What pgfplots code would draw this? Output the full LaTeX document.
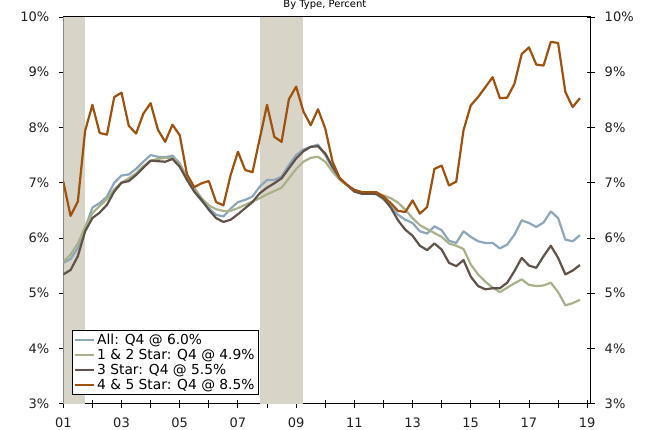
\documentclass[border=0pt]{standalone}
\usepackage{pgfplots}
\pgfplotsset{compat=1.18}
\usepackage{pgfplotstable}
\usepackage{fontspec}
\setmainfont{DejaVu Sans}
\definecolor{cAll}{RGB}{140,166,186}
\definecolor{cOne}{RGB}{168,178,138}
\definecolor{cThree}{RGB}{96,82,72}
\definecolor{cFour}{RGB}{158,82,14}
\definecolor{recess}{RGB}{216,212,200}
\pgfplotstableread{
x all one three four
2001.00 5.55 5.57 5.34 7.02
2001.25 5.62 5.70 5.42 6.40
2001.50 5.82 5.90 5.67 6.66
2001.75 6.18 6.20 6.12 7.94
2002.00 6.55 6.45 6.36 8.41
2002.25 6.63 6.58 6.46 7.90
2002.50 6.75 6.70 6.60 7.87
2002.75 7.00 6.88 6.84 8.55
2003.00 7.13 7.00 7.00 8.63
2003.25 7.15 7.08 7.03 8.03
2003.50 7.25 7.17 7.14 7.89
2003.75 7.38 7.30 7.27 8.25
2004.00 7.50 7.40 7.40 8.44
2004.25 7.47 7.43 7.39 7.96
2004.50 7.46 7.45 7.38 7.74
2004.75 7.49 7.45 7.43 8.05
2005.00 7.35 7.33 7.29 7.86
2005.25 7.08 7.11 7.05 7.15
2005.50 6.84 6.91 6.84 6.92
2005.75 6.67 6.72 6.69 6.99
2006.00 6.54 6.59 6.51 7.03
2006.25 6.42 6.52 6.36 6.65
2006.50 6.39 6.49 6.29 6.59
2006.75 6.53 6.49 6.33 7.14
2007.00 6.65 6.54 6.43 7.56
2007.25 6.69 6.60 6.54 7.23
2007.50 6.75 6.66 6.65 7.19
2007.75 6.93 6.72 6.81 7.80
2008.00 7.05 6.79 6.91 8.41
2008.25 7.05 6.85 6.99 7.83
2008.50 7.11 6.91 7.08 7.74
2008.75 7.32 7.08 7.26 8.51
2009.00 7.50 7.25 7.44 8.74
2009.25 7.60 7.38 7.57 8.29
2009.50 7.65 7.45 7.65 8.04
2009.75 7.69 7.47 7.66 8.33
2010.00 7.50 7.38 7.53 7.98
2010.25 7.26 7.20 7.29 7.38
2010.50 7.07 7.05 7.08 7.08
2010.75 6.96 6.95 6.96 6.96
2011.00 6.85 6.87 6.84 6.87
2011.25 6.82 6.83 6.80 6.83
2011.50 6.81 6.82 6.80 6.83
2011.75 6.79 6.82 6.80 6.83
2012.00 6.70 6.77 6.72 6.75
2012.25 6.57 6.72 6.55 6.63
2012.50 6.42 6.64 6.32 6.49
2012.75 6.33 6.51 6.15 6.47
2013.00 6.27 6.36 6.04 6.68
2013.25 6.12 6.23 5.86 6.44
2013.50 6.08 6.16 5.78 6.56
2013.75 6.21 6.09 5.90 7.25
2014.00 6.14 6.02 5.79 7.31
2014.25 5.95 5.90 5.55 6.95
2014.50 5.91 5.86 5.49 7.02
2014.75 6.12 5.80 5.60 7.95
2015.00 6.02 5.52 5.30 8.40
2015.25 5.94 5.34 5.13 8.55
2015.50 5.91 5.21 5.07 8.73
2015.75 5.91 5.10 5.09 8.91
2016.00 5.81 5.02 5.09 8.53
2016.25 5.88 5.10 5.19 8.54
2016.50 6.06 5.18 5.40 8.79
2016.75 6.32 5.25 5.64 9.33
2017.00 6.27 5.15 5.50 9.45
2017.25 6.20 5.13 5.46 9.14
2017.50 6.28 5.14 5.67 9.12
2017.75 6.48 5.19 5.86 9.55
2018.00 6.36 5.02 5.64 9.53
2018.25 5.97 4.78 5.34 8.64
2018.50 5.94 4.82 5.41 8.37
2018.75 6.05 4.88 5.51 8.53
}\datatable
\begin{document}
\begin{tikzpicture}
\begin{axis}[
  name=main,
  scale only axis,
  width=527.4pt, height=386.7pt,
  xmin=2001, xmax=2019.12,
  ymin=3, ymax=10,
  xtick={2001,...,2019},
  xticklabels={01,,03,,05,,07,,09,,11,,13,,15,,17,,19},
  ytick={3,...,10},
  yticklabels={3\%,4\%,5\%,6\%,7\%,8\%,9\%,10\%},
  xtick pos=bottom, ytick pos=left,
  tick align=center,
  major tick length=8pt,
  tick style={black, line width=0.9pt},
  axis line style={black, line width=1pt},
  tick label style={font=\fontsize{13}{15}\selectfont, text=black!88},
  yticklabel style={xshift=-6.5pt},
  xticklabel style={yshift=-7pt},
  title={By Type, Percent},
  title style={at={(axis description cs:0.496,1)}, anchor=base, yshift=3.4pt, font=\fontsize{10}{12}\selectfont, inner sep=0pt},
  legend style={at={(rel axis cs:0.017,0.022)}, anchor=south west,
    draw=black, line width=0.9pt, fill=white, inner sep=1.5pt,
    font=\fontsize{13.8}{15.5}\selectfont, row sep=-0.8pt,
    /tikz/every even column/.append style={column sep=0pt}},
  legend cell align=left,
  legend image code/.code={\draw[#1, line width=2pt] (0pt,0pt) -- (19pt,0pt);},
  every axis plot/.append style={line width=2.2pt, line join=round},
]
\addplot[fill=recess, draw=none, forget plot] coordinates {(2001,3) (2001.75,3) (2001.75,10) (2001,10)} -- cycle;
\addplot[fill=recess, draw=none, forget plot] coordinates {(2007.75,3) (2009.25,3) (2009.25,10) (2007.75,10)} -- cycle;
\addplot[cAll] table[x=x, y=all] {\datatable};
\addplot[cOne] table[x=x, y=one] {\datatable};
\addplot[cThree] table[x=x, y=three] {\datatable};
\addplot[cFour] table[x=x, y=four] {\datatable};
\legend{All: Q4 @ 6.0\%, 1 \& 2 Star: Q4 @ 4.9\%, 3 Star: Q4 @ 5.5\%, 4 \& 5 Star: Q4 @ 8.5\%}
\end{axis}
\begin{axis}[
  scale only axis,
  width=527.4pt, height=386.7pt,
  xmin=2001, xmax=2019.12,
  ymin=3, ymax=10,
  axis x line=none,
  axis y line*=right,
  ytick={3,...,10},
  yticklabels={3\%,4\%,5\%,6\%,7\%,8\%,9\%,10\%},
  tick align=center,
  major tick length=8pt,
  tick style={black, line width=0.9pt},
  axis line style={black, line width=1pt, -},
  tick label style={font=\fontsize{13}{15}\selectfont, text=black!88},
  yticklabel style={xshift=6.5pt},
]
\addplot[draw=none] coordinates {(2001,3)};
\end{axis}
\pgfresetboundingbox
\useasboundingbox ([xshift=-63.3pt,yshift=-26.3pt]main.south west) rectangle ([xshift=58.3pt,yshift=17pt]main.north east);
\end{tikzpicture}
\end{document}
